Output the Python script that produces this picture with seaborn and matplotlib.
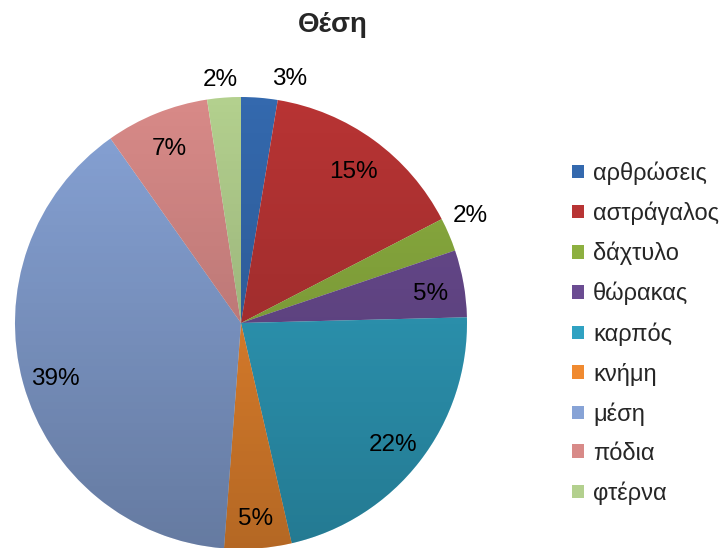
import numpy as np
import matplotlib
matplotlib.use("Agg")
import matplotlib.pyplot as plt
import seaborn as sns

# data (share of total, %)
categories = ["αρθρώσεις", "αστράγαλος", "δάχτυλο", "θώρακας", "καρπός",
              "κνήμη", "μέση", "πόδια", "φτέρνα"]
values = [2.6, 14.8, 2.4, 4.8, 21.8, 4.8, 39.0, 7.4, 2.4]
colors = ["#3469AE", "#B83434", "#8DB040", "#6B4C92", "#30A2C2",
          "#F08A30", "#87A3D6", "#D88A88", "#B3D08E"]
title = "Θέση"

sns.set_style("white")
plt.rcParams["font.family"] = ["Liberation Sans", "DejaVu Sans"]

fig = plt.figure(figsize=(7.24, 5.48), dpi=100)
cx, cy, r = 241, 323, 226
W, H = 724, 548
ax = fig.add_axes([(cx - r) / W, (H - cy - r) / H, 2 * r / W, 2 * r / H])

wedges, texts, autotexts = ax.pie(
    values, colors=colors, startangle=90, counterclock=False, radius=1,
    autopct=lambda p: f"{p:.0f}%", pctdistance=0.85,
    textprops=dict(fontsize=17.5, color="black"),
    wedgeprops=dict(linewidth=0))

# vertical shading like the original (light at top, darker at bottom)
grad = np.zeros((256, 2, 4))
grad[:, :, 3] = np.linspace(0, 0.25, 256)[:, None]
img = ax.imshow(grad, extent=[-1, 1, -1, 1], origin="upper", aspect="auto", zorder=3)
img.set_clip_path(plt.Circle((0, 0), 1, transform=ax.transData))
for t in autotexts:
    t.set_zorder(5)
    x, y = t.get_position()
    t.set_position((x, y - 0.02))

# small slices get their labels outside, nudged like the original
outside = {0: (1.10, 6.5), 2: (1.12, -2), 8: (1.08, -0.5)}
for i, (rad, shift) in outside.items():
    w = wedges[i]
    ang = np.deg2rad((w.theta1 + w.theta2) / 2 - shift)
    autotexts[i].set_position((rad * np.cos(ang), rad * np.sin(ang)))

ax.set_xlim(-1, 1)
ax.set_ylim(-1, 1)
ax.set_aspect("equal")
ax.axis("off")

fig.text(333 / W, 1 - 25 / H, title, ha="center", va="center",
         fontsize=20, fontweight="bold")

fig.legend(wedges, categories, loc="center left",
           bbox_to_anchor=(572 / W, 1 - 333 / H), frameon=False,
           fontsize=17, handlelength=0.5, handleheight=0.5,
           handletextpad=0.4, labelspacing=0.71, borderpad=0,
           borderaxespad=0)

fig.savefig("out.png", dpi=100)
